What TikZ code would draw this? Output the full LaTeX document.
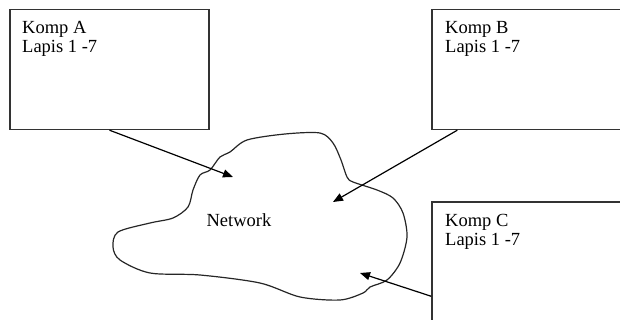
\documentclass[tikz,border=0pt]{standalone}
\usepackage{fontspec}
\setmainfont{Liberation Serif}
\usepackage{tikz}
\usetikzlibrary{arrows.meta,positioning}

\tikzset{
  compbox/.style={draw=black!80, line width=1.4pt, rectangle, inner sep=0pt},
  boxtext/.style={anchor=north west, align=left, inner sep=0pt,
    font=\fontsize{18.5}{19}\selectfont},
  link/.style={line width=1.2pt, -{Triangle[length=10pt,width=8pt]}}
}

\begin{document}
\begin{tikzpicture}[x=1pt,y=-1pt]
    \useasboundingbox (0,0) rectangle (620,320);
    \clip (0,0) rectangle (620,320);

    %  the three computers
    \node[compbox, minimum width=199pt, minimum height=120pt] (kompA) at (109.5,69.5) {};
    \node[boxtext] (labelA) at (22,21) {Komp A\\Lapis 1 -7};

    \node[compbox, minimum width=210pt, minimum height=120pt] (kompB) at (537,69.5) {};
    \node[boxtext] (labelB) at (445,21) {Komp B\\Lapis 1 -7};

    \node[compbox, minimum width=210pt, minimum height=140pt] (kompC) at (537,272) {};
    \node[boxtext] (labelC) at (445,214) {Komp C\\Lapis 1 -7};

    %  the network cloud
    \draw[line width=1.2pt, draw=black!85] plot[smooth cycle, tension=0.5] coordinates {
      (247,140) (285,134) (320,133) (333,143) (341,160) (347,177) (353,182)
      (377,190) (393,198) (403,213) (407,237) (400,263) (387,280) (370,287)
      (363,293) (340,300) (300,297) (260,283) (200,275) (150,273) (120,260)
      (113,247) (118,232) (150,223) (173,218) (188,207) (193,190) (200,175)
      (210,170) (220,157) (230,152)};
    \node[font=\fontsize{18.5}{19}\selectfont] (net) at (239,220) {Network};

    %  connectors into the cloud
    \coordinate (inA) at (233,177);
    \coordinate (inB) at (333,202);
    \coordinate (inC) at (360,273);
    \draw[link] (kompA.south) -- (inA);
    \draw[link] ([xshift=26pt]kompB.south west) -- (inB);
    \draw[link] ([yshift=-95pt]kompC.north west) -- (inC);
\end{tikzpicture}
\end{document}
